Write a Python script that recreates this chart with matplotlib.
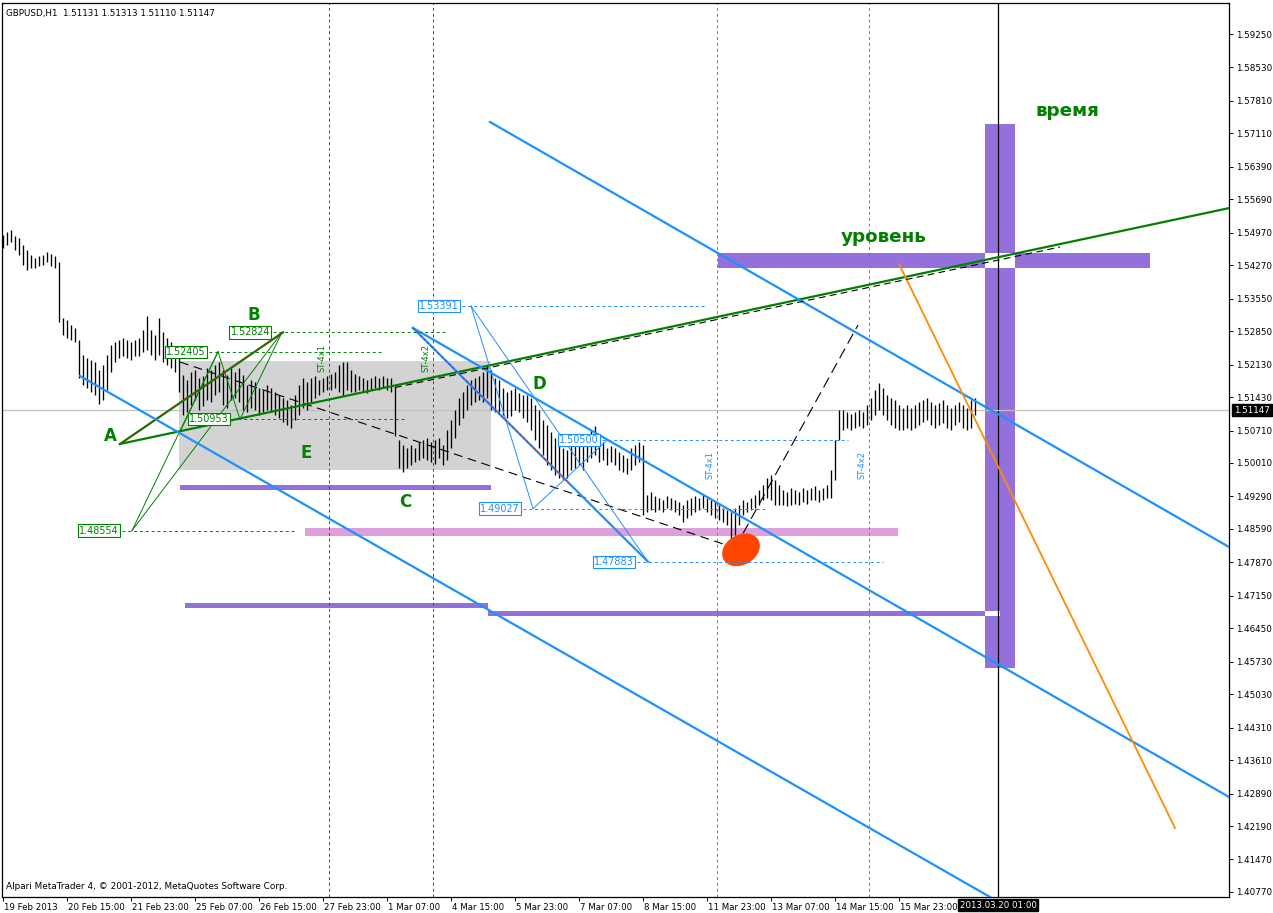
import matplotlib
matplotlib.use('Agg')
import matplotlib.pyplot as plt
import numpy as np
from matplotlib.patches import Rectangle, Ellipse
from matplotlib.transforms import IdentityTransform, ScaledTranslation, blended_transform_factory

# ---------------- data ----------------
symbol_text = "GBPUSD,H1  1.51131 1.51313 1.51110 1.51147"
footer_text = "Alpari MetaTrader 4, \u00a9 2001-2012, MetaQuotes Software Corp."
last_price = 1.51147

# H1 price history, one entry per two hourly bars (high / low)
bar_high = [
    1.5492, 1.5499, 1.5503, 1.5490, 1.5486, 1.5470, 1.5460, 1.5449, 1.5442, 1.5447,
    1.5449, 1.5455, 1.5451, 1.5447, 1.5434, 1.5313, 1.5309, 1.5298, 1.5292, 1.5266,
    1.5234, 1.5227, 1.5223, 1.5219, 1.5201, 1.5212, 1.5234, 1.5255, 1.5262, 1.5266,
    1.5270, 1.5266, 1.5262, 1.5266, 1.5270, 1.5287, 1.5318, 1.5287, 1.5277, 1.5313,
    1.5283, 1.5270, 1.5262, 1.5244, 1.5229, 1.5191, 1.5180, 1.5197, 1.5201, 1.5184,
    1.5188, 1.5206, 1.5201, 1.5212, 1.5219, 1.5201, 1.5191, 1.5206, 1.5197, 1.5206,
    1.5191, 1.5169, 1.5180, 1.5176, 1.5162, 1.5158, 1.5169, 1.5162, 1.5154, 1.5147,
    1.5141, 1.5137, 1.5126, 1.5147, 1.5169, 1.5184, 1.5176, 1.5184, 1.5188, 1.5180,
    1.5184, 1.5188, 1.5193, 1.5197, 1.5212, 1.5219, 1.5219, 1.5201, 1.5193, 1.5188,
    1.5184, 1.5180, 1.5184, 1.5188, 1.5184, 1.5188, 1.5184, 1.5184, 1.5167, 1.5050,
    1.5040, 1.5034, 1.5040, 1.5034, 1.5046, 1.5050, 1.5055, 1.5046, 1.5050, 1.5055,
    1.5040, 1.5072, 1.5094, 1.5115, 1.5141, 1.5154, 1.5169, 1.5180, 1.5184, 1.5188,
    1.5197, 1.5212, 1.5201, 1.5184, 1.5180, 1.5162, 1.5154, 1.5158, 1.5162, 1.5152,
    1.5147, 1.5147, 1.5141, 1.5126, 1.5115, 1.5094, 1.5083, 1.5068, 1.5055, 1.5050,
    1.5034, 1.5029, 1.5040, 1.5046, 1.5050, 1.5040, 1.5061, 1.5072, 1.5081, 1.5050,
    1.5046, 1.5034, 1.5038, 1.5034, 1.5025, 1.5018, 1.5012, 1.5034, 1.5040, 1.5046,
    1.5040, 1.4932, 1.4939, 1.4930, 1.4926, 1.4921, 1.4930, 1.4926, 1.4921, 1.4917,
    1.4911, 1.4921, 1.4926, 1.4930, 1.4926, 1.4932, 1.4926, 1.4921, 1.4917, 1.4911,
    1.4904, 1.4900, 1.4896, 1.4904, 1.4911, 1.4921, 1.4917, 1.4926, 1.4932, 1.4943,
    1.4954, 1.4969, 1.4975, 1.4964, 1.4954, 1.4943, 1.4939, 1.4947, 1.4943, 1.4939,
    1.4947, 1.4943, 1.4947, 1.4952, 1.4943, 1.4947, 1.4954, 1.4986, 1.5050, 1.5115,
    1.5115, 1.5111, 1.5106, 1.5111, 1.5115, 1.5111, 1.5126, 1.5141, 1.5158, 1.5173,
    1.5162, 1.5147, 1.5141, 1.5137, 1.5126, 1.5119, 1.5126, 1.5119, 1.5126, 1.5132,
    1.5137, 1.5141, 1.5132, 1.5126, 1.5130, 1.5137, 1.5126, 1.5119, 1.5126, 1.5132,
    1.5126, 1.5119, 1.5137, 1.5141,
]
bar_low = [
    1.5464, 1.5470, 1.5477, 1.5460, 1.5449, 1.5427, 1.5417, 1.5421, 1.5421, 1.5425,
    1.5427, 1.5434, 1.5425, 1.5421, 1.5305, 1.5277, 1.5270, 1.5266, 1.5262, 1.5184,
    1.5169, 1.5162, 1.5154, 1.5147, 1.5128, 1.5137, 1.5158, 1.5197, 1.5219, 1.5227,
    1.5232, 1.5227, 1.5223, 1.5232, 1.5232, 1.5240, 1.5244, 1.5234, 1.5223, 1.5234,
    1.5219, 1.5212, 1.5206, 1.5197, 1.5154, 1.5104, 1.5111, 1.5126, 1.5137, 1.5115,
    1.5124, 1.5137, 1.5132, 1.5147, 1.5154, 1.5126, 1.5119, 1.5137, 1.5141, 1.5132,
    1.5115, 1.5111, 1.5119, 1.5115, 1.5104, 1.5111, 1.5115, 1.5111, 1.5104, 1.5098,
    1.5089, 1.5083, 1.5076, 1.5094, 1.5104, 1.5119, 1.5115, 1.5132, 1.5141, 1.5147,
    1.5154, 1.5158, 1.5158, 1.5162, 1.5154, 1.5145, 1.5158, 1.5154, 1.5154, 1.5158,
    1.5154, 1.5152, 1.5158, 1.5162, 1.5158, 1.5162, 1.5158, 1.5154, 1.5059, 1.4990,
    1.4982, 1.4990, 1.4997, 1.5003, 1.5007, 1.5012, 1.5007, 1.5003, 1.4999, 1.5012,
    1.4997, 1.5007, 1.5034, 1.5055, 1.5083, 1.5098, 1.5115, 1.5126, 1.5132, 1.5137,
    1.5132, 1.5141, 1.5115, 1.5111, 1.5111, 1.5104, 1.5098, 1.5102, 1.5115, 1.5111,
    1.5098, 1.5089, 1.5072, 1.5050, 1.5034, 1.5018, 1.4997, 1.4986, 1.4975, 1.4969,
    1.4964, 1.4969, 1.4986, 1.4990, 1.4997, 1.4986, 1.5003, 1.5012, 1.5018, 1.5003,
    1.5007, 1.4997, 1.5003, 1.4997, 1.4986, 1.4982, 1.4977, 1.4986, 1.4997, 1.5003,
    1.4889, 1.4896, 1.4900, 1.4896, 1.4900, 1.4896, 1.4904, 1.4900, 1.4896, 1.4889,
    1.4874, 1.4883, 1.4889, 1.4896, 1.4900, 1.4904, 1.4896, 1.4889, 1.4883, 1.4878,
    1.4874, 1.4868, 1.4835, 1.4846, 1.4868, 1.4889, 1.4896, 1.4900, 1.4904, 1.4911,
    1.4921, 1.4926, 1.4921, 1.4911, 1.4911, 1.4911, 1.4908, 1.4911, 1.4913, 1.4911,
    1.4917, 1.4913, 1.4921, 1.4921, 1.4917, 1.4921, 1.4926, 1.4926, 1.4964, 1.5050,
    1.5072, 1.5076, 1.5072, 1.5076, 1.5081, 1.5076, 1.5083, 1.5094, 1.5104, 1.5115,
    1.5104, 1.5094, 1.5083, 1.5076, 1.5072, 1.5072, 1.5076, 1.5072, 1.5076, 1.5083,
    1.5089, 1.5094, 1.5083, 1.5076, 1.5083, 1.5087, 1.5076, 1.5072, 1.5083, 1.5089,
    1.5076, 1.5072, 1.5076, 1.5104,
]

# time axis (bar index of H1 bars)
date_ticks = [0, 32, 64, 96, 128, 160, 192, 224, 256, 288, 320, 352, 384, 416, 448]
date_labels = ['19 Feb 2013', '20 Feb 15:00', '21 Feb 23:00', '25 Feb 07:00', '26 Feb 15:00',
               '27 Feb 23:00', '1 Mar 07:00', '4 Mar 15:00', '5 Mar 23:00', '7 Mar 07:00',
               '8 Mar 15:00', '11 Mar 23:00', '13 Mar 07:00', '14 Mar 15:00', '15 Mar 23:00']
time_line_bar = 497.5
time_line_label = '2013.03.20 01:00'

price_labels = ['1.59250', '1.58530', '1.57810', '1.57110', '1.56390', '1.55690', '1.54970',
                '1.54270', '1.53550', '1.52850', '1.52130', '1.51430', '1.50710', '1.50010',
                '1.49290', '1.48590', '1.47870', '1.47150', '1.46450', '1.45730', '1.45030',
                '1.44310', '1.43610', '1.42890', '1.42190', '1.41470', '1.40770']

# rectangles: (bar0, bar1, price_low, price_high)
grey_zone = (88, 244, 1.49859, 1.52207)
purple_rects = [
    (88.5, 244, 1.49428, 1.49536),
    (91, 242.5, 1.46887, 1.46995),
    (242.5, 498.5, 1.46715, 1.46823),
    (357.5, 573.5, 1.54210, 1.54533),   # level
    (491, 506, 1.45595, 1.57312),       # time
]
pink_rect = (151, 447.5, 1.48438, 1.48610)

# vertical dashed markers
green_vlines = [163, 215]
blue_vlines = [357, 433]

# horizontal price levels: price, label right edge (bar), line end (bar)
green_levels = [1.52824, 1.52405, 1.50953, 1.48554]
green_level_start = [135, 103, 114.5, 59.5]
green_level_end = [222, 190, 201, 146]
blue_levels = [1.53391, 1.50500, 1.49027, 1.47883]
blue_level_start = [229.5, 299.5, 260, 317]
blue_level_end = [352, 422.5, 382, 440]

# wave points
pt_A = (58.5, 1.5042)
pt_B = (140, 1.52824)
green_trend_end = (613, 1.5550)
green_thin_segments = [
    ((64.5, 1.48554), (107.5, 1.52405)),
    ((64.5, 1.48554), (139.5, 1.52824)),
    ((107.5, 1.52405), (118.5, 1.50953)),
    ((118.5, 1.50953), (139.5, 1.52824)),
    ((88.5, 1.50678), (107.5, 1.52405)),
]
black_dash_parallel = ((196, 1.51636), (528.5, 1.54662))
black_dash_down = ((88.5, 1.52185), (366, 1.48180))
black_dash_up = ((366, 1.48180), (427.5, 1.52983))

blue_channel = [
    ((38.5, 1.51884), (493.5, 1.40662)),
    ((243.5, 1.57355), (613, 1.48201)),
    ((205, 1.52918), (613, 1.42816)),
    ((205, 1.52918), (322.5, 1.47883)),
]
red_overlay = [((58.5, 1.5042), (140, 1.52824)), ((205, 1.52918), (282, 1.49619))]
blue_thin_segments = [
    ((234, 1.53391), (265, 1.49027)),
    ((234, 1.53391), (322.5, 1.47883)),
    ((265, 1.49027), (302, 1.50500)),
]
orange_line = ((448, 1.54296), (586, 1.42148))
ellipse_center = (369, 1.4814)

letters = ['A', 'B', 'C', 'D', 'E']
letter_pos = [(53.5, 1.50592), (125.5, 1.53198), (201, 1.49170), (268, 1.51712), (151.5, 1.50225)]
word_level = ('уровень', 440.5, 1.54878)
word_time = ('время', 532, 1.57592)
st_labels = [('ST-4x1', 159.5, 1.52272, 'green'), ('ST-4x2', 211.5, 1.52272, 'green'),
             ('ST-4x1', 353.5, 1.49967, 'blue'), ('ST-4x2', 429.5, 1.49967, 'blue')]

# ---------------- drawing ----------------
W, H = 1273, 913
DPI = 100
fig = plt.figure(figsize=(W / DPI, H / DPI), dpi=DPI)
fig.patch.set_facecolor('white')
ax = fig.add_axes([2 / W, (H - 897) / H, (1229 - 2) / W, (897 - 3) / H])
ax.set_xlim(-0.5, 613)
ax.set_ylim(1.40662, 1.59918)
ax.set_facecolor('white')

GREEN = '#008000'
BLUE = '#1E90FF'
PURPLE = '#9370DB'

# background rectangles
x0, x1, y0, y1 = grey_zone
ax.add_patch(Rectangle((x0, y0), x1 - x0, y1 - y0, fc='#D3D3D3', ec='none', zorder=0.5))
x0, x1, y0, y1 = pink_rect
ax.add_patch(Rectangle((x0, y0), x1 - x0, y1 - y0, fc='#DDA0DD', ec='none', zorder=0.6))
for (x0, x1, y0, y1) in purple_rects:
    ax.add_patch(Rectangle((x0, y0), x1 - x0, y1 - y0, fc=PURPLE, ec='none', zorder=0.7))
# overlapping filled rectangles cancel out (XOR drawing) -> white
time_r = purple_rects[4]
for r in purple_rects[:4]:
    ix0, ix1 = max(r[0], time_r[0]), min(r[1], time_r[1])
    iy0, iy1 = max(r[2], time_r[2]), min(r[3], time_r[3])
    if ix1 > ix0 and iy1 > iy0:
        ax.add_patch(Rectangle((ix0, iy0), ix1 - ix0, iy1 - iy0, fc='white', ec='none', zorder=0.8))

# vertical markers
for v in green_vlines:
    ax.axvline(v, color=GREEN, ls=(0, (3, 3)), lw=0.7, zorder=1)
for v in blue_vlines:
    ax.axvline(v, color=BLUE, ls=(0, (3, 3)), lw=0.7, zorder=1)
ax.axvline(time_line_bar, color='black', lw=0.9, zorder=1)
ax.axhline(last_price, color='#C0C0C0', lw=0.9, zorder=1)

# price bars
bx = np.arange(len(bar_high)) * 2
ax.vlines(bx, bar_low, bar_high, color='black', lw=0.95, zorder=2)

def seg(p, q, **kw):
    ax.plot([p[0], q[0]], [p[1], q[1]], **kw)

# black dashed helper lines
seg(*black_dash_down, color='black', lw=0.8, ls=(0, (8, 5)), zorder=2.5)
seg(*black_dash_up, color='black', lw=0.8, ls=(0, (10, 5)), zorder=2.5)

# green structure
seg(pt_A, pt_B, color=GREEN, lw=1.6, zorder=3)
seg(pt_A, green_trend_end, color=GREEN, lw=1.6, zorder=3)
seg(*black_dash_parallel, color='black', lw=0.8, ls=(0, (6, 4)), zorder=3.1)
for p, q in green_thin_segments:
    seg(p, q, color=GREEN, lw=0.7, zorder=3)

# blue structure
for p, q in blue_channel:
    seg(p, q, color=BLUE, lw=1.6, zorder=3)
for p, q in blue_thin_segments:
    seg(p, q, color=BLUE, lw=0.7, zorder=3)
for p, q in red_overlay:
    seg(p, q, color='red', lw=0.6, ls=(0, (3, 3)), zorder=3.2)
seg(*orange_line, color='#FF8C00', lw=1.3, zorder=3)

# level lines with price labels
for pr, xs, xe in zip(green_levels, green_level_start, green_level_end):
    ax.hlines(pr, xs, xe, colors=GREEN, linestyles=(0, (3, 3)), lw=0.7, zorder=3)
    ax.text(xs - 1.5, pr, f'{pr:.5f}', ha='right', va='center', fontsize=6.9, color=GREEN,
            bbox=dict(boxstyle='square,pad=0.12', fc='white', ec=GREEN, lw=0.8), zorder=4)
for pr, xs, xe in zip(blue_levels, blue_level_start, blue_level_end):
    ax.hlines(pr, xs, xe, colors=BLUE, linestyles=(0, (3, 3)), lw=0.7, zorder=3)
    ax.text(xs - 1.5, pr, f'{pr:.5f}', ha='right', va='center', fontsize=6.9, color=BLUE,
            bbox=dict(boxstyle='square,pad=0.12', fc='white', ec=BLUE, lw=0.8), zorder=4)

# ellipse (drawn in display pixels)
cx, cy = ax.transData.transform(ellipse_center)
ax.add_patch(Ellipse((cx, cy), 40, 30, angle=30, transform=IdentityTransform(),
                     fc='#FF4500', ec='none', zorder=2.8))

# text annotations
for t, (lx, ly) in zip(letters, letter_pos):
    ax.text(lx, ly, t, ha='center', va='center', fontsize=12, fontweight='bold', color=GREEN, zorder=5)
ax.text(word_level[1], word_level[2], word_level[0], ha='center', va='center', fontsize=13.2,
        fontweight='bold', color=GREEN, zorder=5)
ax.text(word_time[1], word_time[2], word_time[0], ha='center', va='center', fontsize=13.2,
        fontweight='bold', color=GREEN, zorder=5)
for t, lx, ly, c in st_labels:
    ax.text(lx, ly, t, rotation=90, ha='center', va='center', fontsize=6,
            color=GREEN if c == 'green' else BLUE, zorder=5)

ax.text(0.003, 0.988, symbol_text, transform=ax.transAxes, ha='left', va='center',
        fontsize=6.3, color='black', zorder=6)
ax.text(0.003, 0.0115, footer_text, transform=ax.transAxes, ha='left', va='center',
        fontsize=6.4, color='black', zorder=6)

# axes styling
for s in ax.spines.values():
    s.set_color('black')
    s.set_linewidth(0.9)
ax.yaxis.tick_right()
ax.set_yticks([float(v) for v in price_labels])
ax.set_yticklabels(price_labels)
ax.tick_params(axis='y', direction='out', length=3, width=0.7, pad=2, labelsize=6.3, colors='black')
ax.set_xticks(date_ticks)
ax.set_xticklabels(date_labels, ha='left')
ax.tick_params(axis='x', direction='out', length=3, width=0.7, pad=1.5, labelsize=6.2, colors='black')
off = ScaledTranslation(1 / DPI, 0, fig.dpi_scale_trans)
for lbl in ax.get_xticklabels():
    lbl.set_transform(lbl.get_transform() + off)

# current price and time-line boxes
bt = blended_transform_factory(ax.transAxes, ax.transData)
ax.text(1.0, last_price, f'{last_price:.5f}', transform=bt + ScaledTranslation(5 / DPI, 0, fig.dpi_scale_trans),
        ha='left', va='center', fontsize=6.3, color='white',
        bbox=dict(boxstyle='square,pad=0.2', fc='black', ec='black'), zorder=6, clip_on=False)
bt2 = blended_transform_factory(ax.transData, ax.transAxes)
ax.text(time_line_bar, 0, time_line_label, transform=bt2 + ScaledTranslation(0, -8 / DPI, fig.dpi_scale_trans),
        ha='center', va='center', fontsize=6.2, color='white',
        bbox=dict(boxstyle='square,pad=0.2', fc='black', ec='black'), zorder=6, clip_on=False)

fig.savefig('out.png', dpi=DPI, facecolor='white')
